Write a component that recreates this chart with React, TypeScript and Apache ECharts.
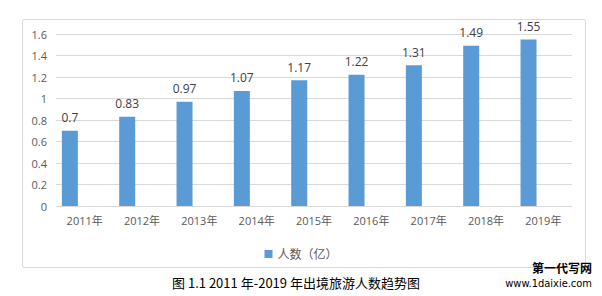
import React, { useEffect, useRef } from "react";
import * as echarts from "echarts";

const categories = ["2011年", "2012年", "2013年", "2014年", "2015年", "2016年", "2017年", "2018年", "2019年"];
const visitors = [0.7, 0.83, 0.97, 1.07, 1.17, 1.22, 1.31, 1.49, 1.55];
const emptySeries = [null, null, null, null, null, null, null, null, null];
const seriesName = "人数（亿）";
const caption = "图 1.1 2011 年-2019 年出境旅游人数趋势图";
const watermark1 = "第一代写网";
const watermark2 = "www.1daixie.com";

export default function App() {
  const ref = useRef<HTMLDivElement>(null);
  useEffect(() => {
    if (!ref.current) return;
    const chart = echarts.init(ref.current, null, { renderer: "svg" });
    const font = "'Open Sans', 'Noto Sans CJK SC', sans-serif";
    chart.setOption({
      animation: false,
      backgroundColor: "#ffffff",
      textStyle: { fontFamily: font },
      grid: { left: 56, right: 30, top: 34, bottom: 90, containLabel: false },
      legend: {
        data: [seriesName],
        left: "center",
        top: 243,
        itemWidth: 8,
        itemHeight: 8,
        icon: "rect",
        itemGap: 4,
        textStyle: { color: "#595959", fontSize: 12, fontFamily: font },
      },
      xAxis: {
        type: "category",
        data: categories,
        axisLine: { show: true, lineStyle: { color: "#d9d9d9" } },
        axisTick: { show: false },
        axisLabel: { color: "#595959", fontSize: 11, margin: 9, fontFamily: font },
      },
      yAxis: {
        type: "value",
        min: 0,
        max: 1.6,
        interval: 0.2,
        axisLine: { show: false },
        axisTick: { show: false },
        splitLine: { lineStyle: { color: "#d9d9d9" } },
        axisLabel: { color: "#595959", fontSize: 11, margin: 9, fontFamily: font },
      },
      series: [
        {
          name: seriesName,
          type: "bar",
          data: visitors,
          barWidth: 16,
          barGap: "85%",
          itemStyle: { color: "#5b9bd5" },
          label: {
            show: true,
            position: "top",
            distance: 7,
            color: "#404040",
            fontSize: 12,
            fontFamily: font,
          },
        },
        {
          name: "_blank",
          type: "bar",
          data: emptySeries,
          barWidth: 16,
          itemStyle: { color: "transparent" },
        },
      ],
      graphic: [
        {
          type: "rect",
          shape: { x: 22.5, y: 19.5, width: 563, height: 248, r: 2 },
          style: { fill: "none", stroke: "#d9d9d9", lineWidth: 1 },
          silent: true,
          z: -1,
        },
        {
          type: "text",
          x: 296,
          y: 282,
          style: {
            text: caption,
            fill: "#000000",
            font: "13px 'Noto Sans CJK SC', sans-serif",
            align: "center",
            verticalAlign: "middle",
          },
        },
        {
          type: "text",
          x: 592,
          y: 267,
          style: {
            text: watermark1,
            fill: "#000000",
            font: "bold 12px 'Noto Sans CJK SC', sans-serif",
            align: "right",
            verticalAlign: "middle",
          },
        },
        {
          type: "text",
          x: 592,
          y: 283,
          style: {
            text: watermark2,
            fill: "#000000",
            font: "11px 'DejaVu Sans Condensed', 'DejaVu Sans', sans-serif",
            align: "right",
            verticalAlign: "middle",
          },
        },
      ],
    });
    return () => chart.dispose();
  }, []);
  return (
    <div
      ref={ref}
      style={{ position: "fixed", left: 0, top: 0, width: 602, height: 296 }}
    />
  );
}
